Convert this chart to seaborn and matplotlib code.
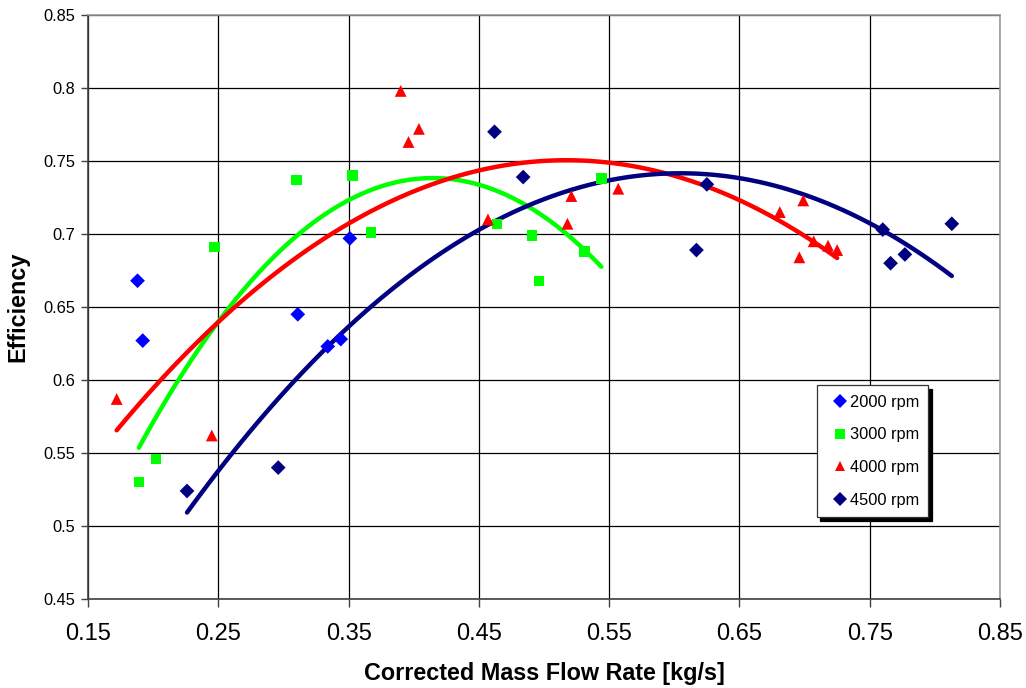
import numpy as np
import pandas as pd
import matplotlib
matplotlib.use("Agg")
import matplotlib.pyplot as plt
import seaborn as sns

# Compressor map measurements: corrected mass flow [kg/s] vs. efficiency
flow_2000 = [0.188, 0.192, 0.311, 0.334, 0.344, 0.351]
eff_2000 = [0.668, 0.627, 0.645, 0.623, 0.628, 0.697]

flow_3000 = [0.189, 0.202, 0.247, 0.310, 0.353, 0.367, 0.464, 0.491, 0.496, 0.531, 0.544]
eff_3000 = [0.530, 0.546, 0.691, 0.737, 0.740, 0.701, 0.707, 0.699, 0.668, 0.688, 0.738]

flow_4000 = [0.172, 0.245, 0.390, 0.396, 0.404, 0.457, 0.518, 0.521, 0.557,
             0.681, 0.699, 0.696, 0.707, 0.718, 0.725]
eff_4000 = [0.587, 0.562, 0.798, 0.763, 0.772, 0.710, 0.707, 0.726, 0.731,
            0.715, 0.723, 0.684, 0.695, 0.692, 0.689]

flow_4500 = [0.226, 0.296, 0.462, 0.484, 0.617, 0.625, 0.760, 0.766, 0.777, 0.813]
eff_4500 = [0.524, 0.540, 0.770, 0.739, 0.689, 0.734, 0.703, 0.680, 0.686, 0.707]

speed_labels = ["2000 rpm", "3000 rpm", "4000 rpm", "4500 rpm"]
x_ticks = [0.15, 0.25, 0.35, 0.45, 0.55, 0.65, 0.75, 0.85]
y_ticks = [0.45, 0.5, 0.55, 0.6, 0.65, 0.7, 0.75, 0.8, 0.85]

series = [
    (flow_2000, eff_2000, "#0000FF", "D", 7.5, False),
    (flow_3000, eff_3000, "#00FF00", "s", 7.5, True),
    (flow_4000, eff_4000, "#FF0000", "^", 8.5, True),
    (flow_4500, eff_4500, "#000080", "D", 7.5, True),
]

sns.set_theme(style="white")
plt.rcParams["font.family"] = ["Liberation Sans", "DejaVu Sans"]
plt.rcParams.update({"text.color": "black", "axes.labelcolor": "black",
                     "xtick.color": "black", "ytick.color": "black"})

fig = plt.figure(figsize=(10.26, 6.88), dpi=100)
ax = fig.add_axes([88 / 1026, 1 - 599 / 688, 912 / 1026, 584 / 688])

handles = []
for (fx, fy, color, marker, ms, trend), label in zip(series, speed_labels):
    df = pd.DataFrame({"flow": fx, "eff": fy})
    sns.scatterplot(data=df, x="flow", y="eff", ax=ax, color=color, marker=marker,
                    s=ms ** 2, edgecolor="none", linewidth=0, zorder=4)
    h = plt.Line2D([], [], color=color, marker=marker, linestyle="none",
                   markersize=ms * 0.9, markeredgewidth=0)
    handles.append(h)

# Second-order polynomial trend lines
for (fx, fy, color, marker, ms, trend) in series:
    if trend:
        sns.regplot(x=np.array(fx), y=np.array(fy), order=2, ci=None, scatter=False,
                    ax=ax, line_kws={"color": color, "lw": 3.2, "zorder": 3,
                                     "solid_capstyle": "round"})

ax.set_xlim(0.15, 0.85)
ax.set_ylim(0.45, 0.85)
ax.set_xticks(x_ticks)
ax.set_yticks(y_ticks)
ax.set_xticklabels([f"{v:g}" for v in x_ticks], fontsize=17)
ax.set_yticklabels([f"{v:g}" for v in y_ticks], fontsize=11.8)
ax.grid(True, color="black", linewidth=0.9)
ax.set_axisbelow(True)

ax.tick_params(axis="x", direction="out", length=5.5, width=1, color="#404040",
               pad=12, bottom=True)
ax.tick_params(axis="y", direction="out", length=5, width=1, color="#404040",
               pad=4, left=True)

for side in ["top", "right"]:
    ax.spines[side].set_color("#9a9a9a")
    ax.spines[side].set_linewidth(1.2)
for side in ["left", "bottom"]:
    ax.spines[side].set_color("#404040")
    ax.spines[side].set_linewidth(1.2)

ax.set_xlabel("Corrected Mass Flow Rate [kg/s]", fontsize=16.8, fontweight="bold",
              labelpad=12)
ax.set_ylabel("Efficiency", fontsize=16.8, fontweight="bold", labelpad=10)

leg = ax.legend(handles, speed_labels, loc="upper left",
                bbox_to_anchor=(0.799, 0.366), fontsize=11.8, frameon=True,
                fancybox=False, labelspacing=1.085, handlelength=1.74,
                handletextpad=-0.3, borderpad=0.57, borderaxespad=0,
                shadow={"ox": 2.5, "oy": -2.5, "color": "black", "alpha": 1})
leg.get_frame().set_edgecolor("#333333")
leg.get_frame().set_linewidth(0.9)
leg.get_frame().set_facecolor("white")
leg.set_zorder(10)

fig.savefig("out.png", dpi=100, facecolor="white")
